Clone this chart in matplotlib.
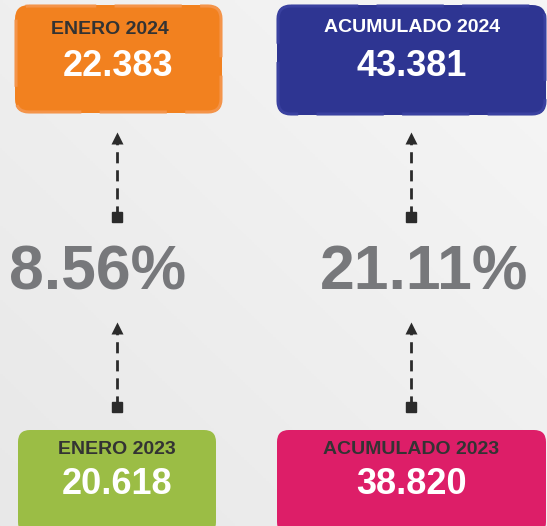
import numpy as np
import matplotlib
matplotlib.use('Agg')
import matplotlib.pyplot as plt
from matplotlib.colors import LinearSegmentedColormap
from matplotlib.patches import FancyBboxPatch

plt.rcParams['font.family'] = ['Liberation Sans', 'DejaVu Sans']

# data
titles_2024 = ['ENERO 2024', 'ACUMULADO 2024']
values_2024 = [22383, 43381]
titles_2023 = ['ENERO 2023', 'ACUMULADO 2023']
values_2023 = [20618, 38820]
variation = [8.56, 21.11]

colors_2024 = ['#f2811f', '#2e3592']
colors_2023 = ['#9bbd45', '#dd1e68']
title_colors_2024 = ['#333333', '#ffffff']
title_colors_2023 = ['#333333', '#333333']


def fmt_es(v):
    return f'{v:,}'.replace(',', '.')


W, H = 547, 526
fig = plt.figure(figsize=(W / 100, H / 100), dpi=100)
ax = fig.add_axes([0, 0, 1, 1])
ax.set_xlim(0, W)
ax.set_ylim(H, 0)
ax.axis('off')

# soft gray background gradient
yy, xx = np.mgrid[0:1:200j, 0:1:200j]
grad = 0.5 * (1 - xx) + 0.5 * yy
bg = LinearSegmentedColormap.from_list('bg', ['#f6f6f6', '#e8e8e8'])
ax.imshow(grad, extent=(0, W, H, 0), cmap=bg, aspect='auto', zorder=0)

col_x = [117, 411]
pct_x = [98, 424]
boxes_top = [(15, 5, 207, 108), (277, 5, 269, 110)]
boxes_bot = [(18, 430, 198, 104), (277, 430, 269, 104)]
top_title_x = [110, 412]
top_title_y = [30, 28]
top_value_y = [66, 67]
bot_title_y = [449] * 2
bot_value_y = [485] * 2
edge_light = ['#f4944a', '#3a41a0']

for i in range(2):
    x, y, w, h = boxes_top[i]
    ax.add_patch(FancyBboxPatch((x, y), w, h, boxstyle='round,pad=0,rounding_size=14',
                                fc=colors_2024[i], ec='none', zorder=2))
    ax.add_patch(FancyBboxPatch((x + 1, y + 1), w - 2, h - 2, boxstyle='round,pad=0,rounding_size=13',
                                fc='none', ec=edge_light[i], lw=2.2, ls=(0, (22, 6)), zorder=3))
    ax.text(top_title_x[i], top_title_y[i], titles_2024[i], color=title_colors_2024[i],
            fontsize=14, fontweight='bold', ha='center', va='center', zorder=4)
    ax.text(x + w / 2, top_value_y[i], fmt_es(values_2024[i]), color='white', fontsize=26,
            fontweight='bold', ha='center', va='center', zorder=4)

    x, y, w, h = boxes_bot[i]
    ax.add_patch(FancyBboxPatch((x, y), w, h, boxstyle='round,pad=0,rounding_size=12',
                                fc=colors_2023[i], ec='none', zorder=2))
    cx = x + w / 2
    ax.text(cx, bot_title_y[i], titles_2023[i], color=title_colors_2023[i], fontsize=14,
            fontweight='bold', ha='center', va='center', zorder=4)
    ax.text(cx, bot_value_y[i], fmt_es(values_2023[i]), color='white', fontsize=26,
            fontweight='bold', ha='center', va='center', zorder=4)

    # variation percentage
    ax.text(pct_x[i], 273, f'{variation[i]:.2f}%', color='#77787b', fontsize=45,
            fontweight='bold', ha='center', va='center', zorder=4)

    # dashed arrows (upper and lower)
    for base, tip in [(217, 133), (407, 323)]:
        ax.plot([col_x[i], col_x[i]], [base, tip + 6], color='#2b2b2b', lw=2,
                ls=(0, (4, 2.5)), zorder=3)
        ax.plot(col_x[i], base, marker='s', ms=6.5, color='#2b2b2b', zorder=4)
        ax.plot(col_x[i], tip + 5, marker='^', ms=9, color='#2b2b2b', mec='none', zorder=4)

fig.savefig('out.png', dpi=100)
